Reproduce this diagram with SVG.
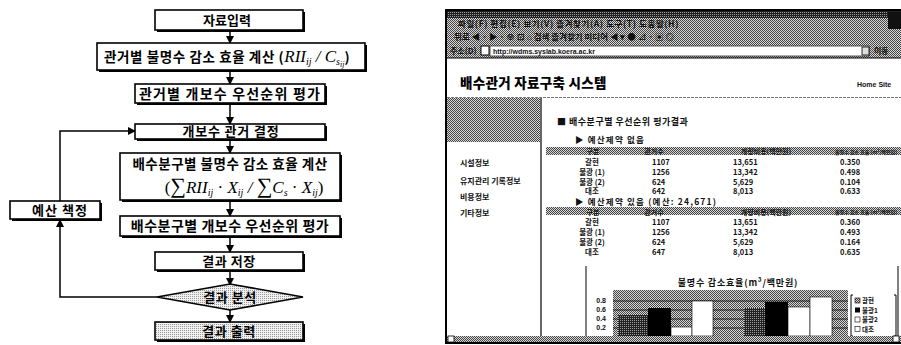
<svg xmlns="http://www.w3.org/2000/svg" width="901" height="345" viewBox="0 0 901 345">
<style>
.bx{fill:#fff;stroke:#000;stroke-width:1.6}
.sh{fill:#000}
.t{font-family:"Noto Sans CJK KR","Noto Sans",sans-serif;font-weight:bold;font-size:13px;fill:#000;text-anchor:middle}
.m{font-family:"Liberation Serif",serif;font-style:italic;font-size:17px}
.ln{fill:none;stroke:#000;stroke-width:1.5}
.s{font-family:"Noto Sans CJK KR","Noto Sans",sans-serif;font-weight:bold;font-size:8px;fill:#111}
.r{font-family:"Noto Sans CJK KR","Noto Sans",sans-serif;font-weight:bold;font-size:7.5px;fill:#111}
.h{font-family:"Noto Sans CJK KR","Noto Sans",sans-serif;font-weight:bold;font-size:7px;fill:#111}
.hs{font-family:"Noto Sans CJK KR","Noto Sans",sans-serif;font-weight:bold;font-size:5px;fill:#111}
.lg{font-family:"Noto Sans CJK KR","Noto Sans",sans-serif;font-weight:bold;font-size:6.5px;fill:#111}
.sn{font-family:"Liberation Sans",sans-serif;font-weight:bold;font-size:7px;fill:#111}
</style>
<defs>
<marker id="ah" markerWidth="8" markerHeight="8" refX="7" refY="4" orient="auto" markerUnits="userSpaceOnUse">
<path d="M0,0 L8,4 L0,8 Z" fill="#000"/>
</marker>
<pattern id="d50" width="2" height="2" patternUnits="userSpaceOnUse"><rect width="2" height="2" fill="#d8d8d8"/><rect width="1" height="1" fill="#444"/><rect x="1" y="1" width="1" height="1" fill="#444"/></pattern>
<pattern id="d25" width="2" height="2" patternUnits="userSpaceOnUse"><rect width="2" height="2" fill="#f0f0f0"/><rect width="1" height="1" fill="#999"/></pattern>
<pattern id="d75" width="2" height="2" patternUnits="userSpaceOnUse"><rect width="2" height="2" fill="#222"/><rect width="1" height="1" fill="#999"/></pattern>
</defs>

<g id="connectors">
<line class="ln" x1="230" y1="30" x2="230" y2="43" marker-end="url(#ah)"/>
<line class="ln" x1="230" y1="70" x2="230" y2="84" marker-end="url(#ah)"/>
<line class="ln" x1="230" y1="103" x2="230" y2="124" marker-end="url(#ah)"/>
<line class="ln" x1="230" y1="139" x2="230" y2="153" marker-end="url(#ah)"/>
<line class="ln" x1="230" y1="200" x2="230" y2="216" marker-end="url(#ah)"/>
<line class="ln" x1="230" y1="238" x2="230" y2="252" marker-end="url(#ah)"/>
<line class="ln" x1="230" y1="271" x2="230" y2="285" marker-end="url(#ah)"/>
<line class="ln" x1="230" y1="310" x2="230" y2="322" marker-end="url(#ah)"/>
<polyline class="ln" points="157,297 60,297 60,220" marker-end="url(#ah)"/>
<polyline class="ln" points="60,201 60,131 135,131" marker-end="url(#ah)"/>
</g>

<g id="n1"><rect class="sh" x="157" y="12" width="148" height="20"/><rect class="bx" x="155" y="10" width="148" height="20"/><text class="t" x="227" y="25" font-size="12px">자료입력</text></g>
<g id="n2"><rect class="sh" x="99" y="45" width="268" height="27"/><rect class="bx" x="97" y="43" width="268" height="27"/>
<text class="t" x="104" y="62" style="text-anchor:start;font-size:13.5px;letter-spacing:0.6px">관거별 불명수 감소 효율 계산 (<tspan class="m" font-weight="normal" font-size="16" letter-spacing="0">RII<tspan font-size="10" dy="3">ij</tspan><tspan dy="-3"> / C</tspan><tspan font-size="10" dy="3">s</tspan><tspan font-size="8" dy="2">ij</tspan></tspan><tspan dy="-5">)</tspan></text></g>
<g id="n3"><rect class="sh" x="137" y="86" width="190" height="19"/><rect class="bx" x="135" y="84" width="190" height="19"/><text class="t" x="230" y="99" style="font-size:14px;letter-spacing:1.2px">관거별 개보수 우선순위 평가</text></g>
<g id="n4"><rect class="sh" x="137" y="126" width="190" height="15"/><rect class="bx" x="135" y="124" width="190" height="15"/><text class="t" x="231" y="136" style="letter-spacing:0.8px">개보수 관거 결정</text></g>
<g id="n5"><rect class="sh" x="122" y="155" width="220" height="47"/><rect class="bx" x="120" y="153" width="220" height="47"/><text class="t" x="230" y="169" style="font-size:13.5px;letter-spacing:0.5px">배수분구별 불명수 감소 효율 계산</text>
<text class="m" x="244" y="193" text-anchor="middle"><tspan font-style="normal">(</tspan><tspan font-style="normal" font-size="22">∑</tspan>RII<tspan font-size="10" dy="3">ij</tspan><tspan dy="-3" font-style="normal"> · </tspan>X<tspan font-size="10" dy="3">ij</tspan><tspan dy="-3"> / </tspan><tspan font-style="normal" font-size="22">∑</tspan>C<tspan font-size="10" dy="3">s</tspan><tspan dy="-3" font-style="normal">  · </tspan>X<tspan font-size="10" dy="3">ij</tspan><tspan dy="-3" font-style="normal">)</tspan></text></g>
<g id="n6"><rect class="sh" x="122" y="218" width="220" height="20"/><rect class="bx" x="120" y="216" width="220" height="20"/><text class="t" x="230" y="231" style="font-size:14px;letter-spacing:0.5px">배수분구별 개보수 우선순위 평가</text></g>
<g id="n7"><rect class="sh" x="157" y="254" width="148" height="18"/><rect class="bx" x="155" y="252" width="148" height="18"/><text class="t" x="229" y="266" style="letter-spacing:0.5px">결과 저장</text></g>
<g id="n8"><polygon points="157,297 230,284 303,297 230,310" fill="url(#d25)" stroke="#000" stroke-width="1.6"/><text class="t" x="230" y="302" style="letter-spacing:0.5px">결과 분석</text></g>
<g id="n9"><rect class="sh" x="157" y="324" width="148" height="18"/><rect x="155" y="322" width="148" height="18" fill="url(#d25)" stroke="#000" stroke-width="1.6"/><text class="t" x="229" y="336" style="letter-spacing:0.5px">결과 출력</text></g>
<g id="n10"><rect class="sh" x="12" y="203" width="90" height="18"/><rect class="bx" x="10" y="201" width="90" height="18"/><text class="t" x="60" y="215" style="letter-spacing:1px">예산 책정</text></g>

<g id="screenshot">
<rect x="446" y="10" width="460" height="333" fill="#fff" stroke="#000" stroke-width="2"/>
<rect x="447" y="11" width="454" height="7" fill="url(#d75)"/>
<rect x="888" y="12" width="13" height="18" fill="#111"/>
<rect x="447" y="18" width="441" height="11" fill="url(#d50)"/>
<text class="s" x="458" y="27" style="font-size:8.5px;letter-spacing:0.6px">파일(F)  편집(E)  보기(V)  즐겨찾기(A)  도구(T)  도움말(H)</text>
<rect x="447" y="29" width="454" height="15" fill="url(#d50)"/>
<text class="s" x="454" y="40" style="font-size:8.5px">뒤로 ◀ · ▶ · ⊗ ⊡ ⌂  검색  즐겨찾기  미디어  ◀ ▾ ● ⊿ · ▣ ◎</text>
<rect x="447" y="44" width="454" height="14" fill="url(#d50)"/>
<text class="s" x="450" y="54">주소(D)</text>
<rect x="481" y="46" width="8" height="9" fill="#fff" stroke="#000" stroke-width="1"/>
<rect x="490" y="46" width="379" height="10" fill="#fff" stroke="#333" stroke-width="0.8"/>
<text class="sn" x="493" y="54">http://wdms.syslab.koera.ac.kr</text>
<rect x="862" y="47" width="7" height="8" fill="#ddd" stroke="#000" stroke-width="0.8"/>
<text class="s" x="874" y="54">이동</text>
<line x1="447" y1="58" x2="901" y2="58" stroke="#000" stroke-width="1"/>
<text x="460" y="88" font-family="'Noto Sans CJK KR',sans-serif" font-weight="900" font-size="13.5px" letter-spacing="0.3px" fill="#000">배수관거 자료구축 시스템</text>
<text class="sn" x="857" y="87">Home   Site</text>
<line x1="447" y1="97.5" x2="901" y2="97.5" stroke="#777" stroke-width="1" stroke-dasharray="3,1"/>
<rect x="447" y="98" width="93" height="44" fill="url(#d50)"/>
<line x1="541" y1="98" x2="541" y2="336" stroke="#000" stroke-width="1.2"/>
<text class="s" x="460" y="166">시설정보</text>
<text class="s" x="460" y="184">유지관리 기록정보</text>
<text class="s" x="460" y="200">비용정보</text>
<text class="s" x="460" y="216">기타정보</text>
<text class="s" x="557" y="125" style="font-size:9px;letter-spacing:0.5px">■ 배수분구별 우선순위 평가결과</text>
<text class="s" x="575" y="143" style="font-size:8.5px;letter-spacing:1.2px">▶ 예산제약 없음</text>
<rect x="546" y="147" width="355" height="8" fill="url(#d50)"/>
<g class="h">
<text x="593" y="154" text-anchor="middle">구분</text><text x="654" y="154" text-anchor="middle">관거수</text><text x="766" y="154" text-anchor="middle">개량비용(백만원)</text>
</g>
<text class="hs" x="835" y="153.5">불명수 감소 효율 (m³/백만원)</text>
<g class="r">
<text x="592" y="164.5" text-anchor="middle">갈현</text><text x="652" y="164.5">1107</text><text x="733" y="164.5">13,651</text><text x="840" y="164.5">0.350</text>
<text x="592" y="174.5" text-anchor="middle">불광 (1)</text><text x="652" y="174.5">1256</text><text x="733" y="174.5">13,342</text><text x="840" y="174.5">0.498</text>
<text x="592" y="184.5" text-anchor="middle">불광 (2)</text><text x="652" y="184.5">624</text><text x="733" y="184.5">5,629</text><text x="840" y="184.5">0.104</text>
<text x="592" y="194" text-anchor="middle">대조</text><text x="652" y="194">642</text><text x="733" y="194">8,013</text><text x="840" y="194">0.633</text>
</g>
<text class="s" x="575" y="204.5" style="font-size:8.5px;letter-spacing:1.2px">▶ 예산제약 있음 (예산: 24,671)</text>
<rect x="546" y="207" width="355" height="8" fill="url(#d50)"/>
<g class="h">
<text x="593" y="214.5" text-anchor="middle">구분</text><text x="654" y="214.5" text-anchor="middle">관거수</text><text x="766" y="214.5" text-anchor="middle">개량비용(백만원)</text>
</g>
<text class="hs" x="835" y="213.5">불명수 감소 효율 (m³/백만원)</text>
<g class="r">
<text x="592" y="225" text-anchor="middle">갈현</text><text x="652" y="225">1107</text><text x="733" y="225">13,651</text><text x="840" y="225">0.360</text>
<text x="592" y="235" text-anchor="middle">불광 (1)</text><text x="652" y="235">1256</text><text x="733" y="235">13,342</text><text x="840" y="235">0.493</text>
<text x="592" y="245" text-anchor="middle">불광 (2)</text><text x="652" y="245">624</text><text x="733" y="245">5,629</text><text x="840" y="245">0.164</text>
<text x="592" y="255" text-anchor="middle">대조</text><text x="652" y="255">647</text><text x="733" y="255">8,013</text><text x="840" y="255">0.635</text>
</g>
<line x1="586" y1="266" x2="586" y2="336" stroke="#000" stroke-width="1"/>
<line x1="898" y1="266" x2="898" y2="336" stroke="#000" stroke-width="1"/>
<text class="s" x="738" y="286" text-anchor="middle" style="font-size:9px;letter-spacing:0.8px">불명수 감소효율(m³/백만원)</text>
<rect x="613" y="290" width="235" height="46" fill="url(#d50)"/>
<g stroke="#000" stroke-width="0.8"><line x1="613" y1="301" x2="848" y2="301"/><line x1="613" y1="310" x2="848" y2="310"/><line x1="613" y1="319" x2="848" y2="319"/><line x1="613" y1="328" x2="848" y2="328"/></g>
<g class="sn" text-anchor="end"><text x="606" y="303">0.8</text><text x="606" y="312">0.6</text><text x="606" y="321">0.4</text><text x="606" y="330">0.2</text></g>
<rect x="618" y="315" width="30" height="21" fill="url(#d75)"/>
<rect x="648" y="308" width="23" height="28" fill="#000"/>
<rect x="671" y="327" width="21" height="9" fill="#fff" stroke="#000" stroke-width="0.6"/>
<rect x="692" y="301" width="21" height="35" fill="#fff" stroke="#000" stroke-width="0.6"/>
<rect x="744" y="308" width="21" height="28" fill="url(#d75)"/>
<rect x="765" y="302" width="23" height="34" fill="#000"/>
<rect x="788" y="307" width="22" height="29" fill="#fff" stroke="#000" stroke-width="0.6"/>
<rect x="810" y="297" width="22" height="39" fill="#fff" stroke="#000" stroke-width="0.6"/>
<path d="M853,295 h-2 v41 h2 M894,295 h2 v41 h-2" fill="none" stroke="#000" stroke-width="1"/>
<g class="lg"><rect x="855" y="298" width="5" height="5" fill="url(#d50)" stroke="#000" stroke-width="0.6"/><text x="862" y="303">갈현</text>
<rect x="855" y="307.5" width="5" height="5" fill="#000"/><text x="862" y="312.5">불광1</text>
<rect x="855" y="317" width="5" height="5" fill="#fff" stroke="#000" stroke-width="0.6"/><text x="862" y="322">불광2</text>
<rect x="855" y="326.5" width="5" height="5" fill="#fff" stroke="#000" stroke-width="0.6"/><text x="862" y="331.5">대조</text></g>
<rect x="447" y="336" width="454" height="6" fill="url(#d50)"/>
<rect x="448" y="336" width="6" height="6" fill="#fff" stroke="#000" stroke-width="0.8"/>
<rect x="893" y="336" width="6" height="6" fill="#fff" stroke="#000" stroke-width="0.8"/>
</g>
</svg>
